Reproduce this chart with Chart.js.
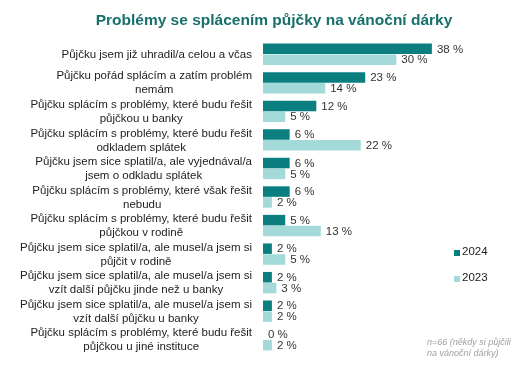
<!DOCTYPE html>
<html>
<head>
<meta charset="utf-8">
<script src="https://cdn.jsdelivr.net/npm/chart.js@4"></script>
<style>
html,body{margin:0;padding:0;background:#fff;}
#wrap{width:517px;height:370px;}
</style>
</head>
<body>
<div id="wrap"><canvas id="c" width="517" height="370"></canvas></div>
<script>
const titleText = "Problémy se splácením půjčky na vánoční dárky";
const categories = [
  ["Půjčku jsem již uhradil/a celou a včas"],
  ["Půjčku pořád splácím a zatím problém", "nemám"],
  ["Půjčku splácím s problémy, které budu řešit", "půjčkou u banky"],
  ["Půjčku splácím s problémy, které budu řešit", "odkladem splátek"],
  ["Půjčku jsem sice splatil/a, ale vyjednával/a", "jsem o odkladu splátek"],
  ["Půjčku splácím s problémy, které však řešit", "nebudu"],
  ["Půjčku splácím s problémy, které budu řešit", "půjčkou v rodině"],
  ["Půjčku jsem sice splatil/a, ale musel/a jsem si", "půjčit v rodině"],
  ["Půjčku jsem sice splatil/a, ale musel/a jsem si", "vzít další půjčku jinde než u banky"],
  ["Půjčku jsem sice splatil/a, ale musel/a jsem si", "vzít další půjčku u banky"],
  ["Půjčku splácím s problémy, které budu řešit", "půjčkou u jiné instituce"]
];
const seriesNames = ["2024", "2023"];
const values2024 = [38, 23, 12, 6, 6, 6, 5, 2, 2, 2, 0];
const values2023 = [30, 14, 5, 22, 5, 2, 13, 5, 3, 2, 2];
const noteLines = ["n=66 (někdy si půjčili", "na vánoční dárky)"];

const colors = ["#0b7e80", "#a3dad9"];
const FONT = "'Liberation Sans', Arial, sans-serif";

const customDraw = {
  id: 'customDraw',
  afterDatasetsDraw(chart) {
    const ctx = chart.ctx;
    const yScale = chart.scales.y;
    ctx.save();
    // title
    ctx.font = "bold 15.5px " + FONT;
    ctx.fillStyle = "#17706b";
    ctx.textAlign = "center";
    ctx.textBaseline = "middle";
    ctx.fillText(titleText, 274, 21);
    // category labels: each block centered, right edge aligned
    ctx.font = "11.5px " + FONT;
    ctx.fillStyle = "#222";
    const rightEdge = chart.chartArea.left - 11;
    categories.forEach((lines, i) => {
      const y = yScale.getPixelForValue(i);
      const maxW = Math.max(...lines.map(l => ctx.measureText(l).width));
      const cx = rightEdge - maxW / 2;
      lines.forEach((l, j) => {
        ctx.fillText(l, cx, y + 0.5 + (j - (lines.length - 1) / 2) * 14);
      });
    });
    // value labels
    ctx.textAlign = "left";
    ctx.fillStyle = "#333";
    chart.data.datasets.forEach((ds, di) => {
      const meta = chart.getDatasetMeta(di);
      meta.data.forEach((el, i) => {
        ctx.fillText(ds.data[i] + " %", el.x + 5, el.y + 0.5);
      });
    });
    // legend
    const legY = [252, 278];
    chart.data.datasets.forEach((ds, di) => {
      ctx.fillStyle = ds.backgroundColor;
      ctx.fillRect(454, legY[di] - 2, 6, 6);
      ctx.fillStyle = "#222";
      ctx.font = "11.5px " + FONT;
      ctx.fillText(ds.label, 462, legY[di]);
    });
    // note
    ctx.font = "italic 9px " + FONT;
    ctx.fillStyle = "#a0a0a0";
    noteLines.forEach((l, j) => ctx.fillText(l, 427, 342 + j * 11));
    ctx.restore();
  }
};

new Chart(document.getElementById('c'), {
  type: 'bar',
  data: {
    labels: categories,
    datasets: [
      { label: seriesNames[0], data: values2024, backgroundColor: colors[0] },
      { label: seriesNames[1], data: values2023, backgroundColor: colors[1] }
    ]
  },
  options: {
    indexAxis: 'y',
    responsive: false,
    animation: false,
    devicePixelRatio: 1,
    categoryPercentage: 0.76,
    barPercentage: 0.97,
    layout: { padding: { left: 263, right: 54, top: 40, bottom: 16 } },
    plugins: { legend: { display: false }, tooltip: { enabled: false }, title: { display: false } },
    scales: {
      x: { display: false, min: 0, max: 45 },
      y: { display: false }
    }
  },
  plugins: [customDraw]
});
</script>
</body>
</html>
